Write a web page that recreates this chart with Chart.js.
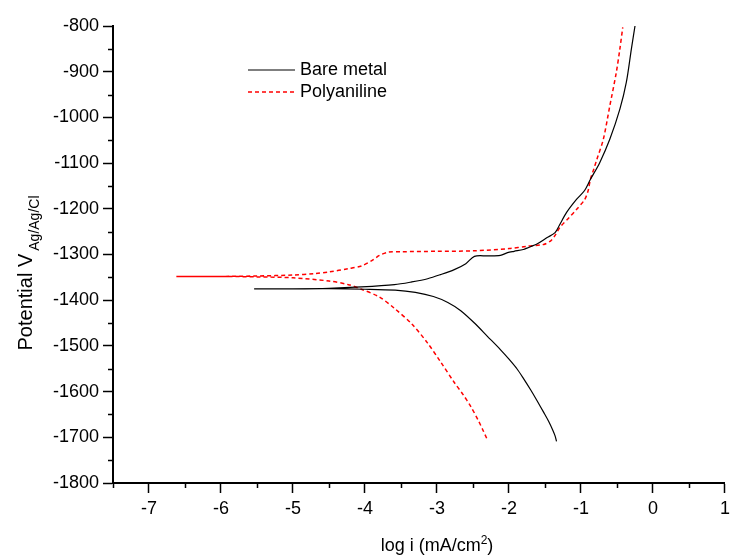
<!DOCTYPE html>
<html>
<head>
<meta charset="utf-8">
<script src="https://cdn.jsdelivr.net/npm/chart.js@4/dist/chart.umd.min.js"></script>
<style>
  body { margin: 0; background: #fff; }
  canvas { display: block; }
</style>
</head>
<body>
<canvas id="tafel" width="735" height="557"></canvas>
<script>
// Tafel curves: log current density (x) vs potential in mV vs Ag/AgCl (y).
// Each curve runs from the cathodic end, through Ecorr, out to the anodic end.
const bareX = [-1.34, -1.36, -1.39, -1.45, -1.52, -1.61, -1.70, -1.80, -1.89, -2.00, -2.12, -2.30, -2.48, -2.67, -2.85, -3.05,
               -3.30, -3.58, -4.00, -4.50, -5.00, -5.54,
               -5.00, -4.50, -4.05, -3.59, -3.35, -3.13, -2.95, -2.76, -2.60, -2.48, -2.30, -2.12, -2.02, -1.93, -1.80,
               -1.75, -1.60, -1.47, -1.36, -1.30, -1.20, -1.06, -0.95, -0.87, -0.74, -0.60, -0.46, -0.37, -0.30, -0.25];
const bareY = [-1709, -1697, -1685, -1665, -1645, -1620, -1596, -1571, -1550, -1529, -1508, -1479, -1450, -1423, -1405, -1392,
               -1383, -1378, -1376, -1375, -1375, -1375,
               -1375, -1374, -1371, -1366, -1360, -1353, -1344, -1333, -1320, -1304, -1303, -1302, -1296, -1293, -1289,
               -1286, -1276, -1263, -1252, -1236, -1208, -1179, -1160, -1136, -1099, -1048, -982, -923, -850, -800];

const paniX = [-2.31, -2.36, -2.42, -2.53, -2.64, -2.76, -2.95, -3.13, -3.35, -3.59, -3.80, -4.05, -4.23, -4.50, -5.00,
               -5.50, -6.00, -6.62,
               -6.00, -5.50, -5.00, -4.70, -4.50, -4.23, -4.05, -3.90, -3.80, -3.68, -3.50, -3.00, -2.50, -2.00, -1.75,
               -1.52, -1.42, -1.36, -1.29, -1.17, -1.06, -0.95, -0.90, -0.87, -0.82, -0.78, -0.69, -0.60, -0.51, -0.46, -0.42];
const paniY = [-1702, -1685, -1665, -1633, -1606, -1580, -1535, -1494, -1452, -1418, -1393, -1376, -1366, -1358, -1351,
               -1349, -1348, -1348,
               -1348, -1347, -1345, -1342, -1338, -1331, -1325, -1313, -1302, -1295, -1294, -1293, -1292, -1287, -1282,
               -1278, -1270, -1258, -1240, -1220, -1201, -1180, -1160, -1136, -1112, -1092, -1048, -975, -902, -850, -803];

const seriesNames = ['Bare metal', 'Polyaniline'];
const xTickLabels = [-7, -6, -5, -4, -3, -2, -1, 0, 1];
const yTickLabels = [-800, -900, -1000, -1100, -1200, -1300, -1400, -1500, -1600, -1700, -1800];

const FONT = 'Liberation Sans, Arial, sans-serif';

const toPoints = (xs, ys) => xs.map((x, i) => ({ x: x, y: ys[i] }));

// minor ticks, titles and the inset legend
const tafelDecor = {
  id: 'tafelDecor',
  afterDraw(chart) {
    const { ctx, chartArea } = chart;
    const sx = chart.scales.x, sy = chart.scales.y;
    ctx.save();

    // half-step minor ticks
    ctx.strokeStyle = '#000';
    ctx.lineWidth = 1.5;
    ctx.beginPath();
    for (let v = sx.min; v < sx.max; v += 1) {
      const v2 = Number.isInteger(v) ? v + 0.5 : v;
      const px = Math.round(sx.getPixelForValue(v2)) + 0.5;
      ctx.moveTo(px, chartArea.bottom);
      ctx.lineTo(px, chartArea.bottom + 5);
    }
    for (let v = sy.min + 50; v < sy.max; v += 100) {
      const py = Math.round(sy.getPixelForValue(v)) + 0.5;
      ctx.moveTo(chartArea.left, py);
      ctx.lineTo(chartArea.left - 5, py);
    }
    ctx.stroke();

    // legend
    const lx = chartArea.left + 135, ly = chartArea.top + 44;
    chart.data.datasets.forEach((ds, i) => {
      const yy = ly + i * 22;
      ctx.strokeStyle = ds.borderColor;
      ctx.lineWidth = ds.borderWidth;
      ctx.setLineDash(ds.borderDash || []);
      ctx.beginPath();
      ctx.moveTo(lx, yy);
      ctx.lineTo(lx + 47, yy);
      ctx.stroke();
      ctx.setLineDash([]);
      ctx.fillStyle = '#000';
      ctx.font = '18px ' + FONT;
      ctx.textAlign = 'left';
      ctx.textBaseline = 'middle';
      ctx.fillText(ds.label, lx + 52, yy);
    });

    // x title with superscript
    ctx.fillStyle = '#000';
    ctx.textBaseline = 'alphabetic';
    ctx.textAlign = 'left';
    const main = 'log i (mA/cm', tail = ')';
    ctx.font = '18px ' + FONT;
    const wMain = ctx.measureText(main).width, wTail = ctx.measureText(tail).width;
    ctx.font = '12px ' + FONT;
    const wSup = ctx.measureText('2').width;
    let tx = sx.getPixelForValue(-3) - (wMain + wSup + wTail) / 2;
    const tb = chartArea.bottom + 68;
    ctx.font = '18px ' + FONT;
    ctx.fillText(main, tx, tb);
    ctx.font = '12px ' + FONT;
    ctx.fillText('2', tx + wMain, tb - 7);
    ctx.font = '18px ' + FONT;
    ctx.fillText(tail, tx + wMain + wSup, tb);

    // y title with subscript, rotated
    ctx.translate(32, sy.getPixelForValue(-1510));
    ctx.rotate(-Math.PI / 2);
    ctx.font = '20px ' + FONT;
    const yMain = 'Potential V';
    ctx.fillText(yMain, 0, 0);
    const wy = ctx.measureText(yMain).width;
    ctx.font = '14px ' + FONT;
    ctx.fillText('Ag/Ag/Cl', wy + 3, 7);

    ctx.restore();
  }
};

new Chart(document.getElementById('tafel'), {
  type: 'scatter',
  data: {
    datasets: [
      {
        label: seriesNames[0],
        data: toPoints(bareX, bareY),
        showLine: true,
        borderColor: '#000000',
        borderWidth: 1.2,
        pointRadius: 0,
        tension: 0.3
      },
      {
        label: seriesNames[1],
        data: toPoints(paniX, paniY),
        showLine: true,
        borderColor: '#ff0000',
        borderWidth: 1.5,
        borderDash: [4, 3],
        pointRadius: 0,
        tension: 0.3
      }
    ]
  },
  options: {
    responsive: false,
    animation: false,
    layout: { padding: { top: 26, right: 6, left: 0, bottom: 0 } },
    plugins: {
      legend: { display: false },
      tooltip: { enabled: false }
    },
    scales: {
      x: {
        type: 'linear',
        min: -7.5,
        max: 1,
        afterBuildTicks: s => { s.ticks = xTickLabels.map(v => ({ value: v })); },
        afterFit: s => { s.height = 74; },
        ticks: { color: '#000', font: { family: FONT, size: 18 }, padding: 5, maxRotation: 0,
                 callback: v => String(v) },
        grid: { drawOnChartArea: false, tickLength: 10, tickWidth: 1.5, tickColor: '#000' },
        border: { color: '#000', width: 2 }
      },
      y: {
        min: -1800,
        max: -800,
        afterBuildTicks: s => { s.ticks = yTickLabels.map(v => ({ value: v })); },
        afterFit: s => { s.width = 113; },
        ticks: { color: '#000', font: { family: FONT, size: 18 }, padding: 4,
                 callback: v => String(v) },
        grid: { drawOnChartArea: false, tickLength: 10, tickWidth: 1.5, tickColor: '#000' },
        border: { color: '#000', width: 2 }
      }
    }
  },
  plugins: [tafelDecor]
});
</script>
</body>
</html>
